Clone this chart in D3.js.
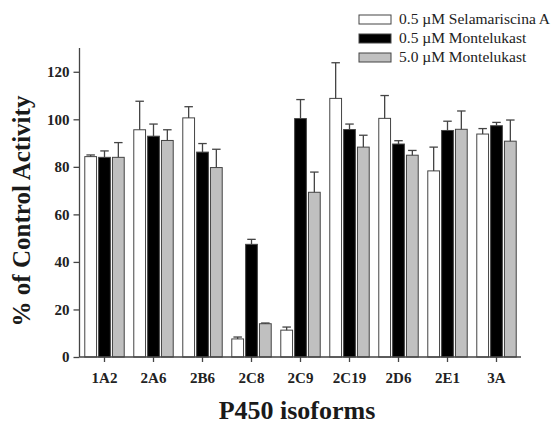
<!DOCTYPE html>
<html>
<head>
<meta charset="utf-8">
<script src="https://cdn.jsdelivr.net/npm/d3@7"></script>
<style>
  body { margin: 0; background: #fff; }
  svg text { font-family: "Liberation Serif", "DejaVu Serif", serif; }
</style>
</head>
<body>
<svg id="chart" width="552" height="426"></svg>
<script>
// --- data ---
const isoforms = ["1A2", "2A6", "2B6", "2C8", "2C9", "2C19", "2D6", "2E1", "3A"];
const seriesNames = ["0.5 \u00b5M Selamariscina A", "0.5 \u00b5M Montelukast", "5.0 \u00b5M Montelukast"];
const selamariscina05 = [84.3, 95.6, 100.6, 7.6, 11.3, 108.8, 100.4, 78.3, 93.8];
const selamariscina05Err = [0.7, 12.0, 4.7, 0.8, 1.3, 15.0, 9.6, 10.0, 2.3];
const montelukast05 = [84.0, 92.9, 86.2, 47.4, 100.3, 95.7, 89.6, 95.3, 97.3];
const montelukast05Err = [2.7, 5.1, 3.6, 2.1, 8.0, 2.3, 1.4, 3.9, 1.4];
const montelukast50 = [84.0, 91.1, 79.7, 14.0, 69.3, 88.3, 84.9, 95.8, 90.8];
const montelukast50Err = [6.2, 4.5, 7.7, 0.3, 8.5, 5.0, 2.0, 7.7, 8.9];
const yTicks = [0, 20, 40, 60, 80, 100, 120];

const fills = ["#ffffff", "#000000", "#c0c0c0"];
const values = [selamariscina05, montelukast05, montelukast50];
const errors = [selamariscina05Err, montelukast05Err, montelukast50Err];

const rows = [];
isoforms.forEach((iso, i) => {
  seriesNames.forEach((s, j) => {
    rows.push({ iso, s, j, v: values[j][i], e: errors[j][i] });
  });
});

const svg = d3.select("#chart");
const axisColor = "#444";

const x = d3.scaleBand()
  .domain(isoforms)
  .range([80, 521])
  .paddingInner(0.195)
  .paddingOuter(0.0975);

const xs = d3.scaleBand()
  .domain(seriesNames)
  .range([0, x.bandwidth()])
  .paddingInner(0.15);

const y = d3.scaleLinear()
  .domain([0, 130])
  .range([357, 48]);

// bars
svg.append("g")
  .selectAll("rect")
  .data(rows)
  .join("rect")
  .attr("x", d => x(d.iso) + xs(d.s))
  .attr("y", d => y(d.v))
  .attr("width", xs.bandwidth())
  .attr("height", d => y(0) - y(d.v))
  .attr("fill", d => fills[d.j])
  .attr("stroke", axisColor)
  .attr("stroke-width", 1);

// error bars (upper only, T caps)
const capW = 8.5;
const cx = d => x(d.iso) + xs(d.s) + xs.bandwidth() / 2;
const eb = svg.append("g").attr("stroke", axisColor).attr("stroke-width", 1.3);
eb.selectAll("line.v")
  .data(rows)
  .join("line")
  .attr("class", "v")
  .attr("x1", cx)
  .attr("x2", cx)
  .attr("y1", d => y(d.v))
  .attr("y2", d => y(d.v + d.e));
eb.selectAll("line.c")
  .data(rows)
  .join("line")
  .attr("class", "c")
  .attr("x1", d => cx(d) - capW / 2)
  .attr("x2", d => cx(d) + capW / 2)
  .attr("y1", d => y(d.v + d.e))
  .attr("y2", d => y(d.v + d.e));

// axes
const yAxis = svg.append("g")
  .attr("transform", "translate(79.5,0)")
  .call(d3.axisLeft(y).tickValues(yTicks).tickSize(6).tickPadding(4));
yAxis.select(".domain").attr("d", `M0,${y(130)}V${y(0)}`);

const xAxis = svg.append("g")
  .attr("transform", `translate(0,${y(0)})`)
  .call(d3.axisBottom(x).tickSize(5).tickSizeOuter(0).tickPadding(10));
xAxis.select(".domain").attr("d", "M79.5,0H521");

[xAxis, yAxis].forEach(a => {
  a.selectAll("path, line").attr("stroke", axisColor).attr("stroke-width", 1.3);
  a.selectAll("text")
    .attr("fill", "#222")
    .style("font-family", "'Liberation Serif', serif")
    .style("font-weight", "bold")
    .style("font-size", "15px");
});

// axis titles
svg.append("text")
  .attr("transform", "translate(30,211) rotate(-90)")
  .attr("text-anchor", "middle")
  .attr("fill", "#1a1a1a")
  .style("font-weight", "bold")
  .style("font-size", "25px")
  .text("% of Control Activity");

svg.append("text")
  .attr("x", 297)
  .attr("y", 419)
  .attr("text-anchor", "middle")
  .attr("fill", "#1a1a1a")
  .style("font-weight", "bold")
  .style("font-size", "26px")
  .text("P450 isoforms");

// legend
const legend = svg.append("g").selectAll("g")
  .data(seriesNames)
  .join("g")
  .attr("transform", (d, i) => `translate(359,${15 + i * 19})`);
legend.append("rect")
  .attr("width", 32)
  .attr("height", 9)
  .attr("fill", (d, i) => fills[i])
  .attr("stroke", axisColor)
  .attr("stroke-width", 1);
legend.append("text")
  .attr("x", 40)
  .attr("y", 9)
  .attr("fill", "#222")
  .style("font-size", "15.5px")
  .text(d => d);
</script>
</body>
</html>
